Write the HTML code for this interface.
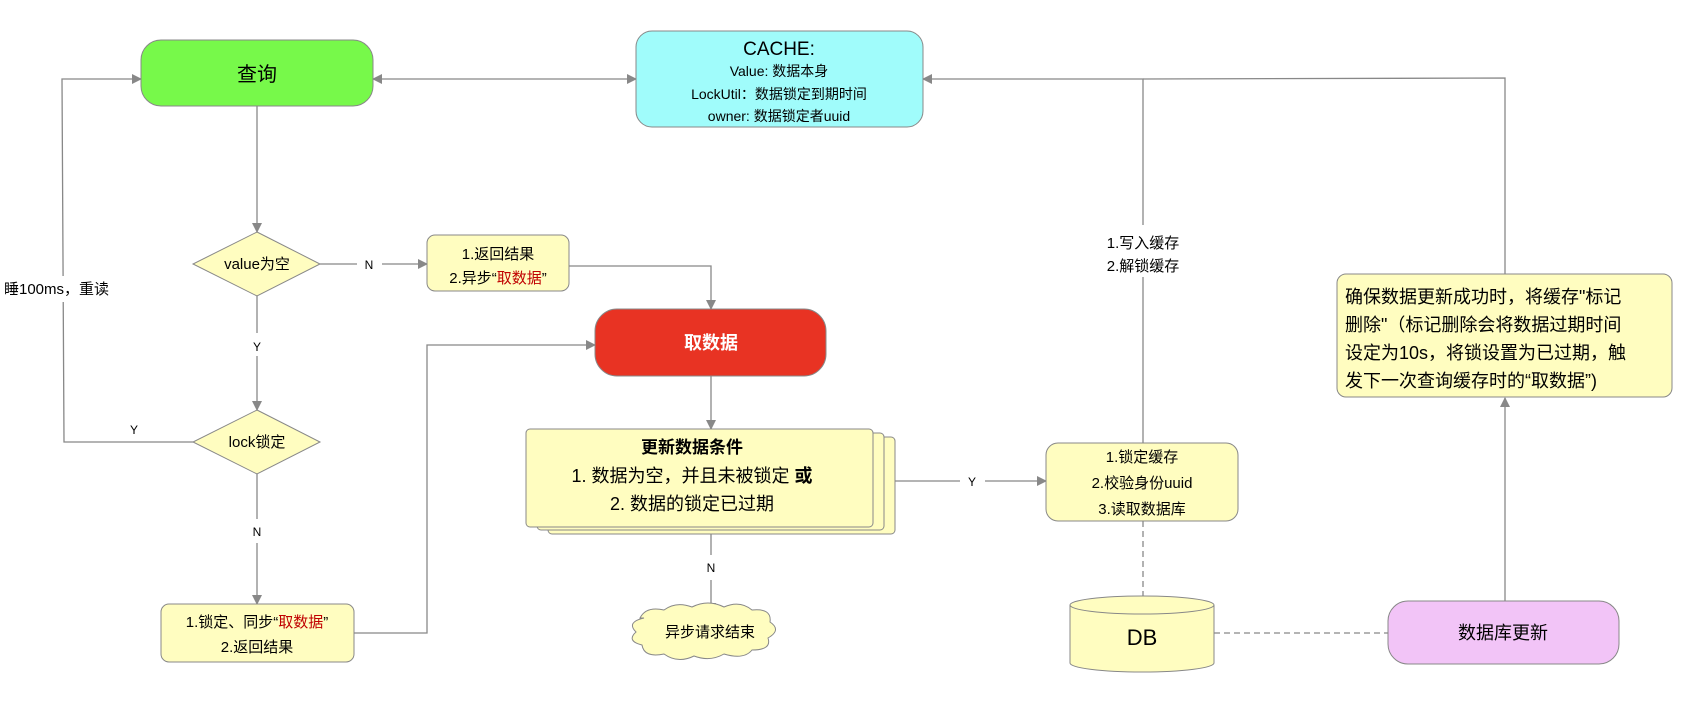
<!DOCTYPE html>
<html><head><meta charset="utf-8"><style>
html,body{margin:0;padding:0;background:#fff}
svg text{font-family:"Liberation Sans","Noto Sans CJK SC",sans-serif;fill:#000}
</style></head><body>
<svg width="1690" height="712" viewBox="0 0 1690 712" xmlns="http://www.w3.org/2000/svg">
<defs>
<marker id="a" markerWidth="10" markerHeight="10" refX="9" refY="5" orient="auto" markerUnits="userSpaceOnUse"><path d="M0,0 L10,5 L0,10 z" fill="#888"/></marker>
<marker id="b" markerWidth="10" markerHeight="10" refX="1" refY="5" orient="auto" markerUnits="userSpaceOnUse"><path d="M10,0 L0,5 L10,10 z" fill="#888"/></marker>
</defs>
<g stroke="#888" stroke-width="1.3" fill="none">
<line x1="373" y1="79" x2="636" y2="79" marker-start="url(#b)" marker-end="url(#a)"/>
<line x1="257" y1="106" x2="257" y2="232" marker-end="url(#a)"/>
<polyline points="320,264 357,264"/><line x1="382" y1="264" x2="427" y2="264" marker-end="url(#a)"/>
<polyline points="569,266 711,266 711,309" marker-end="url(#a)"/>
<line x1="257" y1="296" x2="257" y2="333"/><line x1="257" y1="356" x2="257" y2="410" marker-end="url(#a)"/>
<polyline points="193,442 64,442 62,79 141,79" marker-end="url(#a)"/>
<line x1="257" y1="474" x2="257" y2="519"/><line x1="257" y1="543" x2="257" y2="604" marker-end="url(#a)"/>
<polyline points="354,633 427,633 427,345 595,345" marker-end="url(#a)"/>
<line x1="711" y1="376" x2="711" y2="429" marker-end="url(#a)"/>
<line x1="711" y1="533" x2="711" y2="555"/><line x1="711" y1="580" x2="711" y2="612" marker-end="url(#a)"/>
<line x1="895" y1="481" x2="960" y2="481"/><line x1="985" y1="481" x2="1046" y2="481" marker-end="url(#a)"/>
<polyline points="1143,443 1143,79 923,79" marker-end="url(#a)"/>
<polyline points="1505,274 1505,78 1143,79"/>
<line x1="1505" y1="601" x2="1505" y2="398" marker-end="url(#a)"/>
<line x1="1143" y1="521" x2="1143" y2="596" stroke-dasharray="6,4"/>
<line x1="1214" y1="633" x2="1388" y2="633" stroke-dasharray="6,4"/>
</g>
<rect x="1095" y="225" width="96" height="52" fill="#fff"/>
<rect x="2" y="276" width="124" height="26" fill="#fff"/>
<rect x="141" y="40" width="232" height="66" rx="20" fill="#77f94a" stroke="#888"/>
<text x="257" y="81" font-size="20" text-anchor="middle">查询</text>
<rect x="636" y="31" width="287" height="96" rx="16" fill="#a0fcfb" stroke="#888"/>
<text x="779" y="55" font-size="19" text-anchor="middle">CACHE:</text>
<text x="779" y="76" font-size="14" text-anchor="middle">Value: 数据本身</text>
<text x="779" y="99" font-size="14" text-anchor="middle">LockUtil：数据锁定到期时间</text>
<text x="779" y="121" font-size="14" text-anchor="middle">owner: 数据锁定者uuid</text>
<polygon points="257,232 320,264 257,296 193,264" fill="#fffdc0" stroke="#888"/>
<text x="257" y="269" font-size="15" text-anchor="middle">value为空</text>
<polygon points="257,410 320,442 257,474 193,442" fill="#fffdc0" stroke="#888"/>
<text x="257" y="447" font-size="15" text-anchor="middle">lock锁定</text>
<rect x="427" y="235" width="142" height="56" rx="8" fill="#fffdc0" stroke="#888"/>
<text x="498" y="259" font-size="15" text-anchor="middle">1.返回结果</text>
<text x="498" y="283" font-size="15" text-anchor="middle">2.异步“<tspan fill="#c00000">取数据</tspan>”</text>
<rect x="595" y="309" width="231" height="67" rx="22" fill="#e83323" stroke="#888"/>
<text x="711" y="349" font-size="18" font-weight="bold" text-anchor="middle" style="fill:#fff">取数据</text>
<rect x="161" y="604" width="193" height="58" rx="8" fill="#fffdc0" stroke="#888"/>
<text x="257" y="627" font-size="15" text-anchor="middle">1.锁定、同步“<tspan fill="#c00000">取数据</tspan>”</text>
<text x="257" y="652" font-size="15" text-anchor="middle">2.返回结果</text>
<rect x="548" y="437" width="347" height="97" rx="4" fill="#fffdc0" stroke="#888"/>
<rect x="537" y="433" width="347" height="97" rx="4" fill="#fffdc0" stroke="#888"/>
<rect x="526" y="429" width="347" height="98" rx="4" fill="#fffdc0" stroke="#888"/>
<text x="692" y="453" font-size="17" font-weight="bold" text-anchor="middle">更新数据条件</text>
<text x="692" y="482" font-size="18" text-anchor="middle">1. 数据为空，并且未被锁定 <tspan font-weight="bold">或</tspan></text>
<text x="692" y="510" font-size="18" text-anchor="middle">2. 数据的锁定已过期</text>
<rect x="1046" y="443" width="192" height="78" rx="12" fill="#fffdc0" stroke="#888"/>
<text x="1142" y="462" font-size="15" text-anchor="middle">1.锁定缓存</text>
<text x="1142" y="488" font-size="15" text-anchor="middle">2.校验身份uuid</text>
<text x="1142" y="514" font-size="15" text-anchor="middle">3.读取数据库</text>
<path d="M640,618 q6,-12 24,-8 q12,-9 28,-3 q16,-8 32,0 q16,-7 28,3 q20,-2 18,12 q12,8 -2,16 q4,12 -16,12 q-8,10 -28,4 q-14,8 -30,2 q-16,8 -30,-2 q-20,4 -22,-9 q-16,-4 -6,-13 q-10,-10 8,-14 z" fill="#fffdc0" stroke="#888"/>
<text x="710" y="637" font-size="15" text-anchor="middle">异步请求结束</text>
<path d="M1070,605 v58 a72,9 0 0 0 144,0 v-58" fill="#fffdc0" stroke="#888"/>
<ellipse cx="1142" cy="605" rx="72" ry="9" fill="#fffdc0" stroke="#888"/>
<text x="1142" y="645" font-size="22" text-anchor="middle">DB</text>
<rect x="1388" y="601" width="231" height="63" rx="20" fill="#f2c4f7" stroke="#888"/>
<text x="1503" y="639" font-size="18" text-anchor="middle">数据库更新</text>
<rect x="1337" y="274" width="335" height="123" rx="9" fill="#fffdc0" stroke="#888"/>
<text x="1345" y="303" font-size="18">确保数据更新成功时，将缓存"标记</text>
<text x="1345" y="331" font-size="18">删除"（标记删除会将数据过期时间</text>
<text x="1345" y="359" font-size="18">设定为10s，将锁设置为已过期，触</text>
<text x="1345" y="387" font-size="18">发下一次查询缓存时的“取数据”)</text>
<text x="1143" y="248" font-size="15" text-anchor="middle">1.写入缓存</text>
<text x="1143" y="271" font-size="15" text-anchor="middle">2.解锁缓存</text>
<text x="4" y="294" font-size="15">睡100ms，重读</text>
<text x="130" y="434" font-size="12">Y</text>
<text x="369" y="269" font-size="12" text-anchor="middle">N</text>
<text x="257" y="351" font-size="12" text-anchor="middle">Y</text>
<text x="257" y="536" font-size="12" text-anchor="middle">N</text>
<text x="711" y="572" font-size="12" text-anchor="middle">N</text>
<text x="972" y="486" font-size="12" text-anchor="middle">Y</text>
</svg>
</body></html>
